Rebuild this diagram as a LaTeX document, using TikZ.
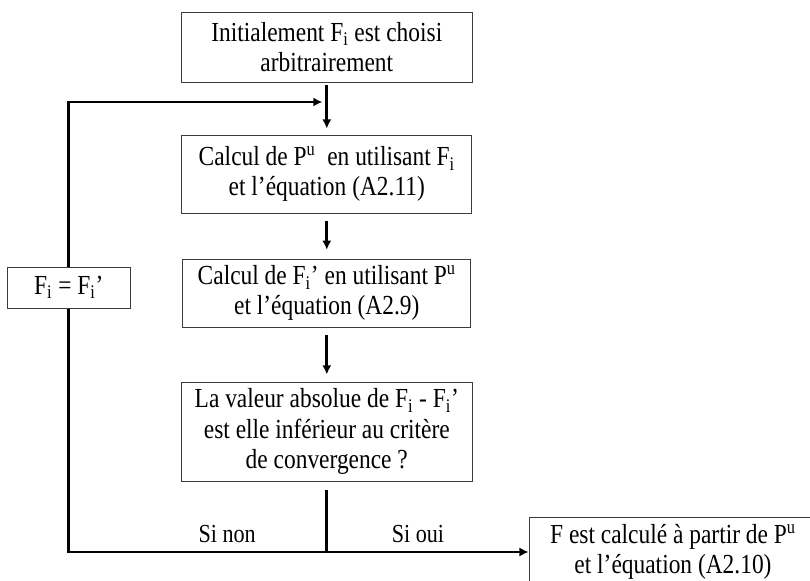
\documentclass[tikz,border=0pt]{standalone}
\usepackage{fontspec}
\setmainfont[FakeStretch=0.85]{Liberation Serif}
\usepackage{xcolor}
\usepackage{tikz}
\usetikzlibrary{positioning,arrows.meta,calc}
\definecolor{mBoxLine}{HTML}{3C3C3C}

\begin{document}
\begin{tikzpicture}[font=\fontsize{19.6}{21.5}\selectfont,
  procbox/.style={draw=mBoxLine, line width=0.6pt, fill=white, align=center, inner sep=1pt},
  link/.style={line width=1.9pt},
  flow/.style={link, -{Latex[length=6.5pt,width=6.5pt]}}]
\useasboundingbox (0,0) rectangle (20.25,-14.525);
\node[procbox, minimum width=7.275cm, minimum height=1.75cm] (init) at (8.17,-1.175) {Initialement F\textsubscript{i} est choisi\\arbitrairement};
\node[procbox, minimum width=7.25cm, minimum height=1.95cm] (calcP) at (8.17,-4.35) {Calcul de P\textsuperscript{u}\ \ en utilisant F\textsubscript{i}\\et l’équation (A2.11)};
\node[procbox, minimum width=7.2cm, minimum height=1.7cm] (calcF) at (8.17,-7.325) {Calcul de F\textsubscript{i}’ en utilisant P\textsuperscript{u}\\et l’équation (A2.9)};
\node[procbox, minimum width=7.275cm, minimum height=2.475cm] (test) at (8.17,-10.79) {La valeur absolue de F\textsubscript{i} - F\textsubscript{i}’\\est elle inférieur au critère\\de convergence ?};
\node[procbox, minimum width=7.2cm, minimum height=1.75cm] (res) at (16.825,-13.8) {F est calculé à partir de P\textsuperscript{u}\\et l’équation (A2.10)};
\node[procbox, minimum width=3.075cm, minimum height=1.025cm] (eq) at (1.72,-7.19) {F\textsubscript{i} = F\textsubscript{i}’};
\node[font=\fontsize{18.5}{18.5}\selectfont] (sinon) at (5.68,-13.35) {Si non};
\node[font=\fontsize{18.5}{18.5}\selectfont] (sioui) at (10.45,-13.35) {Si oui};
% main chain
\draw[flow, shorten <=0.075cm, shorten >=0.15cm] (init) -- (calcP);
\draw[flow, shorten <=0.18cm, shorten >=0.22cm] (calcP) -- (calcF);
\draw[flow, shorten <=0.2cm, shorten >=0.18cm] (calcF) -- (test);
% decision and loop back
\coordinate (split) at (test |- res);
\coordinate (join) at (8.06,-2.55);
\draw[link, shorten <=0.2cm] (test) -- (split);
\draw[flow] (split) -- (res);
\draw[link] (split) -| (eq);
\draw[flow] (eq) |- (join);
\end{tikzpicture}
\end{document}
